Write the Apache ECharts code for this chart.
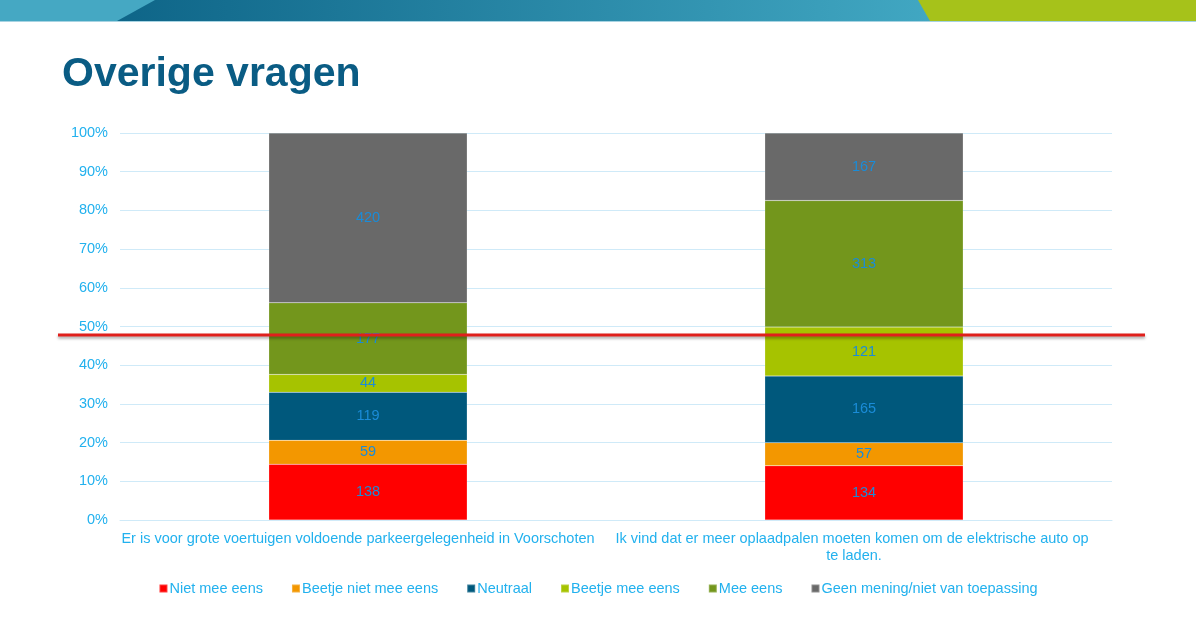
<!DOCTYPE html>
<html>
<head>
<meta charset="utf-8">
<script src="https://cdn.jsdelivr.net/npm/echarts@6/dist/echarts.min.js"></script>
<style>
html,body{margin:0;padding:0;background:#fff;}
#c{width:1196px;height:617px;}
</style>
</head>
<body>
<div id="c"></div>
<script>
const title = 'Overige vragen';
const categories = [
  'Er is voor grote voertuigen voldoende parkeergelegenheid in Voorschoten',
  'Ik vind dat er meer oplaadpalen moeten komen om de elektrische auto op te laden.'
];
const seriesNames = ['Niet mee eens', 'Beetje niet mee eens', 'Neutraal', 'Beetje mee eens', 'Mee eens', 'Geen mening/niet van toepassing'];
const nietMeeEens = [138, 134];
const beetjeNietMeeEens = [59, 57];
const neutraal = [119, 165];
const beetjeMeeEens = [44, 121];
const meeEens = [177, 313];
const geenMening = [420, 167];
const yTicks = [0, 10, 20, 30, 40, 50, 60, 70, 80, 90, 100];
const referenceLine = 47.8;

const colors = ['#ff0000', '#f39700', '#00587c', '#a6c300', '#73961c', '#696969'];
const allSeries = [nietMeeEens, beetjeNietMeeEens, neutraal, beetjeMeeEens, meeEens, geenMening];
const totals = categories.map((_, i) => allSeries.reduce((s, arr) => s + arr[i], 0));

const lightBlue = '#22b1ee';
const labelBlue = '#1a8cd8';
const font = 'Liberation Sans, Arial, sans-serif';

const chart = echarts.init(document.getElementById('c'), null, {renderer: 'canvas'});

const option = {
  animation: false,
  backgroundColor: '#ffffff',
  color: colors,
  title: {
    text: title,
    left: 57, top: 49,
    textStyle: {fontFamily: font, fontWeight: 'bold', fontSize: 41, color: '#0a5c84'}
  },
  legend: {
    bottom: 16, left: 'center',
    itemWidth: 8, itemHeight: 8, itemGap: 28,
    icon: 'rect',
    textStyle: {fontFamily: font, fontSize: 14.5, color: lightBlue, padding: [0, 0, 0, -3]},
    data: seriesNames
  },
  grid: {left: 120, right: 84, top: 133, bottom: 97},
  xAxis: {
    type: 'category',
    data: categories,
    axisLine: {lineStyle: {color: '#cfeaf8'}},
    axisTick: {show: false},
    axisLabel: {
      interval: 0, margin: 10, width: 478, overflow: 'break',
      padding: [0, 20, 0, 0],
      fontFamily: font, fontSize: 14.5, lineHeight: 17, color: lightBlue
    }
  },
  yAxis: {
    type: 'value', min: 0, max: 100, interval: 10,
    axisLine: {show: false}, axisTick: {show: false},
    splitLine: {lineStyle: {color: '#cfeaf8', width: 1}},
    axisLabel: {
      fontFamily: font, fontSize: 14.5, color: lightBlue, margin: 12,
      formatter: v => (yTicks.includes(v) ? v + '%' : '')
    }
  },
  series: seriesNames.map((name, k) => ({
    name: name,
    type: 'bar',
    stack: 'total',
    barWidth: '40%',
    data: allSeries[k].map((v, i) => v / totals[i] * 100),
    itemStyle: {color: colors[k], borderColor: 'rgba(255,255,255,0.25)', borderWidth: 0.5},
    label: {
      show: true, position: 'inside',
      fontFamily: font, fontSize: 14.5, color: labelBlue,
      formatter: p => String(allSeries[k][p.dataIndex])
    }
  }))
};
chart.setOption(option);

const yLine = chart.convertToPixel({yAxisIndex: 0}, referenceLine);

chart.setOption({
  graphic: [
    {type: 'polygon', z: 10, shape: {points: [[0,0],[1196,0],[1196,21],[0,21]]}, style: {fill: '#45a8c3'}},
    {type: 'polygon', z: 11, shape: {points: [[155,0],[918,0],[930,21],[117,21]]},
      style: {fill: new echarts.graphic.LinearGradient(0, 0, 1, 0, [{offset: 0, color: '#0e6588'}, {offset: 1, color: '#41a7c2'}])}},
    {type: 'polygon', z: 12, shape: {points: [[918,0],[1196,0],[1196,21],[930,21]]}, style: {fill: '#a6c21a'}},
    {type: 'rect', z: 13, shape: {x: 0, y: 21, width: 1196, height: 1}, style: {fill: '#a7d3e2'}},
    {type: 'line', z: 50, shape: {x1: 58, y1: yLine, x2: 1145, y2: yLine},
      style: {stroke: '#e0201c', lineWidth: 3, shadowColor: 'rgba(0,0,0,0.35)', shadowBlur: 3, shadowOffsetY: 2}}
  ]
});
</script>
</body>
</html>
